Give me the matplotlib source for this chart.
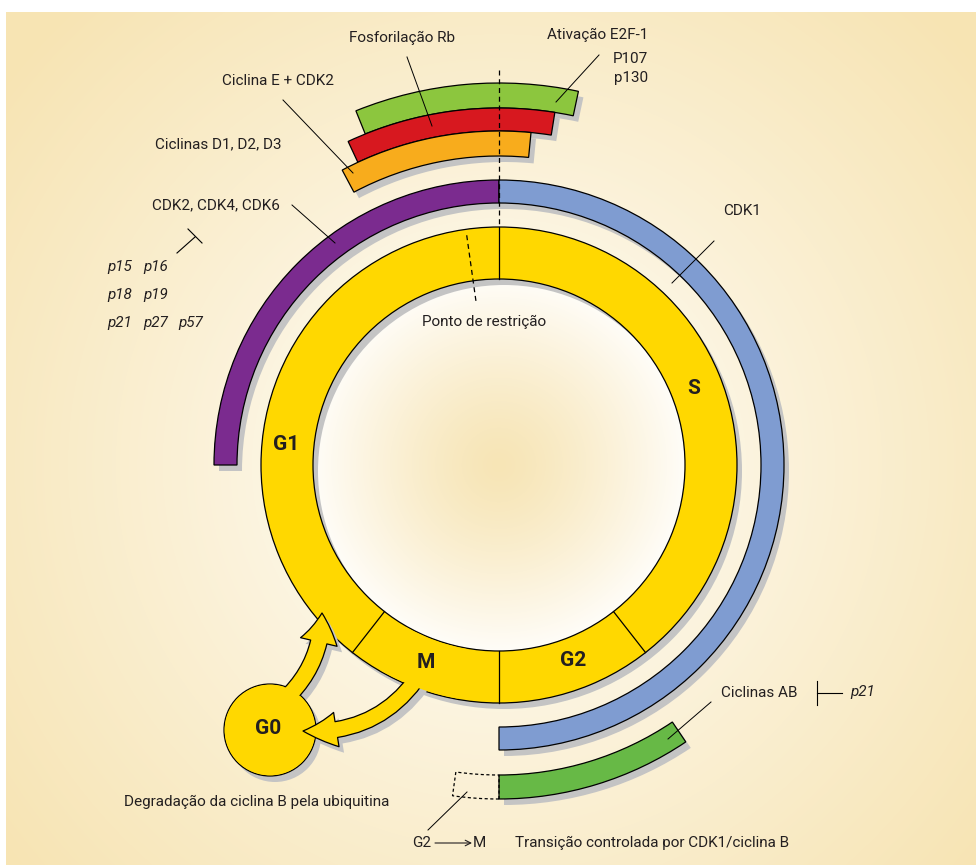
import numpy as np
import matplotlib.pyplot as plt
from matplotlib.patches import Wedge, Circle, Annulus, FancyArrowPatch
from matplotlib.colors import to_rgb

W, H = 976, 865
CX, CY = 499, 465          # centre of the cycle (pixels)
R_OUT, R_IN = 238, 186     # yellow ring
SH = (5, 6)                # shadow offset

# fases do ciclo (angulos em graus, sentido anti-horario a partir das 3h)
phase_names = ['G1', 'M', 'G2', 'S']
phase_edges = [90, 232, 270, 308]
phase_label_pos = [(286, 444), (426, 662), (573, 661), (694, 388)]

# faixas de reguladores: raio externo, largura, angulo inicial/final, cor
band_r_out = [382, 357, 334, 285, 285, 334]
band_width = [25, 23, 25, 23, 23, 24]
band_start = [78, 81, 84.5, 90, -90, -90]
band_end = [112, 115, 118, 180, 90, -56]
band_colors = ['#8cc63e', '#d7181f', '#f8ac1c', '#7b2b8f', '#7f9cd1', '#67b946']

# textos (x, y, texto, alinhamento)
labels = [
    (349, 38, 'Fosforilação Rb', 'left'),
    (648, 35, 'Ativação E2F-1', 'right'),
    (648, 59, 'P107', 'right'),
    (648, 78, 'p130', 'right'),
    (222, 81, 'Ciclina E + CDK2', 'left'),
    (155, 144, 'Ciclinas D1, D2, D3', 'left'),
    (152, 205, 'CDK2, CDK4, CDK6', 'left'),
    (723, 211, 'CDK1', 'left'),
    (422, 322, 'Ponto de restrição', 'left'),
    (721, 693, 'Ciclinas AB', 'left'),
    (124, 802, 'Degradação da ciclina B pela ubiquitina', 'left'),
    (412, 843, 'G2', 'left'),
    (473, 843, 'M', 'left'),
    (515, 843, 'Transição controlada por CDK1/ciclina B', 'left'),
]
inhibitors = [['p15', 'p16'], ['p18', 'p19'], ['p21', 'p27', 'p57']]
inhib_x = [107, 143, 178]
inhib_y = [267, 295, 323]

# linhas de chamada
leaders = [
    ((407, 57), (432, 126)),
    ((599, 55), (556, 102)),
    ((283, 100), (353, 173)),
    ((292, 205), (335, 243)),
    ((714, 241), (672, 283)),
    ((711, 702), (668, 739)),
    ((428, 830), (467, 792)),
]

TXT = '#231f20'
YEL = '#ffd800'
SHADOW = '#c4c4c4'
FONT = ['Roboto', 'DejaVu Sans']
FS = 11


def pt(r, a):
    a = np.radians(a)
    return CX + r * np.cos(a), CY - r * np.sin(a)


def band(ax, r, w, a1, a2, dx=0, dy=0, **kw):
    # y axis is inverted, so visual angles are negated
    p = Wedge((CX + dx, CY + dy), r, -a2, -a1, width=w, **kw)
    ax.add_patch(p)
    return p


fig = plt.figure(figsize=(9.76, 8.65), dpi=100)
ax = fig.add_axes([0, 0, 1, 1])

# fundo com gradiente radial
yy, xx = np.mgrid[12:H, 6:W] + 0.5
rr = np.hypot(xx - CX, yy - CY)
t = np.clip((rr - 170) / 460, 0, 1)[..., None] ** 0.9
c0, c1 = np.array(to_rgb('#fdf8ea')), np.array(to_rgb('#f7e4b3'))
ax.imshow(c0 * (1 - t) + c1 * t, extent=(6, W, H, 12), origin='upper', zorder=0)

# disco interno
yy, xx = np.mgrid[CY - R_IN:CY + R_IN, CX - R_IN:CX + R_IN] + 0.5
t = np.clip(np.hypot(xx - CX, yy - CY) / R_IN, 0, 1)[..., None] ** 1.3
c0, c1 = np.array(to_rgb('#f7e5b6')), np.array(to_rgb('#fffdf8'))
im = ax.imshow(c0 * (1 - t) + c1 * t,
               extent=(CX - R_IN, CX + R_IN, CY + R_IN, CY - R_IN),
               origin='upper', zorder=1)
disc = Circle((CX, CY), R_IN, transform=ax.transData)
im.set_clip_path(disc)

# sombras e faixas
ax.add_patch(Annulus((CX + SH[0], CY + SH[1]), R_OUT, R_OUT - R_IN,
                     fc=SHADOW, ec='none', zorder=2))
for r, w, a1, a2, c in zip(band_r_out, band_width, band_start, band_end, band_colors):
    band(ax, r, w, a1, a2, SH[0], SH[1], fc=SHADOW, ec='none', zorder=2)
    band(ax, r, w, a1, a2, fc=c, ec='black', lw=0.9, zorder=3)

band(ax, 334, 24, -98, -90, fill=False, ec='black', lw=0.9,
     ls=(0, (2.5, 2)), zorder=3)

ax.add_patch(Annulus((CX, CY), R_OUT, R_OUT - R_IN, fc=YEL, ec='black',
                     lw=0.9, zorder=3))

# G0 e setas
G0 = (270, 730)
ax.add_patch(Circle((G0[0] + SH[0], G0[1] + SH[1]), 46, fc=SHADOW, ec='none', zorder=4))
arrows = [
    dict(a=(284, 700), b=(322, 613), rad=0.22,
         style='simple,head_length=21,head_width=27,tail_width=12'),
    dict(a=(424, 668), b=(303, 731), rad=-0.3,
         style='simple,head_length=24,head_width=25,tail_width=11.5'),
]
for ar in arrows:
    a = (ar['a'][0] + SH[0], ar['a'][1] + SH[1])
    b = (ar['b'][0] + SH[0], ar['b'][1] + SH[1])
    ax.add_patch(FancyArrowPatch(a, b, arrowstyle=ar['style'],
                                 connectionstyle=f"arc3,rad={ar['rad']}",
                                 shrinkA=0, shrinkB=0, fc=SHADOW, ec='none',
                                 mutation_scale=1, zorder=4))
ax.add_patch(Circle(G0, 46, fc=YEL, ec='black', lw=0.9, zorder=5))
for i, ar in enumerate(arrows):
    ax.add_patch(FancyArrowPatch(ar['a'], ar['b'], arrowstyle=ar['style'],
                                 connectionstyle=f"arc3,rad={ar['rad']}",
                                 shrinkA=0, shrinkB=0, fc=YEL, ec='black',
                                 lw=0.9, mutation_scale=1, zorder=6 + 2 * i))
ax.add_patch(Circle(G0, 45.3, fc=YEL, ec='none', zorder=7))
band(ax, R_OUT - 0.8, R_OUT - R_IN - 1.6, 240, 260, fc=YEL, ec='none', zorder=9)

# divisoes das fases
for a in phase_edges:
    (x0, y0), (x1, y1) = pt(R_IN, a), pt(R_OUT, a)
    ax.plot([x0, x1], [y0, y1], color='black', lw=0.9, zorder=10)
for name, (x, y) in zip(phase_names, phase_label_pos):
    ax.text(x, y, name, fontsize=15, fontweight='bold', family=FONT,
            color=TXT, ha='center', va='center', zorder=11)
ax.text(G0[0] - 2, G0[1] - 2, 'G0', fontsize=15, fontweight='bold', family=FONT,
        color=TXT, ha='center', va='center', zorder=11)

# ponto de restricao e linha tracejada
(x0, y0), (x1, y1) = pt(232, 98), pt(162, 98)
ax.plot([x0, x1], [y0, y1], color='black', lw=0.9, ls=(0, (4, 3)), zorder=10)
ax.plot([CX, CX], [70, CY - R_OUT], color='black', lw=0.9,
        ls=(0, (4, 3)), zorder=10)

for (x0, y0), (x1, y1) in leaders:
    ax.plot([x0, x1], [y0, y1], color='black', lw=0.7, zorder=10)

# simbolos de inibicao
ax.plot([177, 195], [253, 237], color='black', lw=0.8, zorder=10)
ax.plot([188, 202], [229, 243], color='black', lw=0.8, zorder=10)
ax.plot([817, 817], [681, 705], color='black', lw=0.8, zorder=10)
ax.plot([817, 842], [693, 693], color='black', lw=0.8, zorder=10)
ax.annotate('', xy=(472, 843), xytext=(435, 843),
            arrowprops=dict(arrowstyle='->', lw=0.8, color=TXT,
                            shrinkA=0, shrinkB=0), zorder=10)

for x, y, s, ha in labels:
    ax.text(x, y, s, fontsize=FS, family=FONT, color=TXT, ha=ha,
            va='center', zorder=11)
for row, y in zip(inhibitors, inhib_y):
    for s, x in zip(row, inhib_x):
        ax.text(x, y, s, fontsize=FS, family=FONT, style='italic',
                color=TXT, ha='left', va='center', zorder=11)
ax.text(850, 692, 'p21', fontsize=FS, family=FONT, style='italic',
        color=TXT, ha='left', va='center', zorder=11)

ax.set_xlim(0, W)
ax.set_ylim(H, 0)
ax.axis('off')
fig.savefig('out.png', dpi=100, facecolor='white')
